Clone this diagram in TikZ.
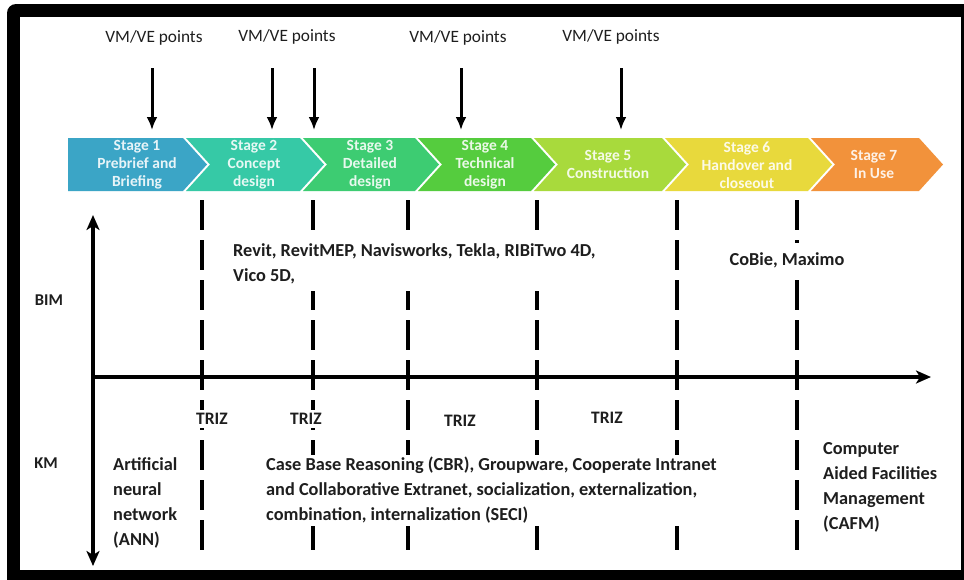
\documentclass[tikz,border=0pt]{standalone}
\usepackage{fontspec}
\setmainfont{Carlito}
\usetikzlibrary{arrows.meta}
\definecolor{sA}{HTML}{3BA5C6}
\definecolor{sB}{HTML}{36C9A6}
\definecolor{sC}{HTML}{3DCC72}
\definecolor{sD}{HTML}{55CC3E}
\definecolor{sE}{HTML}{A8DA3C}
\definecolor{sF}{HTML}{E8D93C}
\definecolor{sG}{HTML}{F2923B}
\definecolor{txt}{HTML}{1E1E1E}
\begin{document}
\begin{tikzpicture}[x=1pt,y=-1pt,
  stagetxt/.style={text=white,text opacity=0.88,font=\fontsize{15.5}{18}\selectfont\bfseries,align=center,inner sep=0pt},
  lbl/.style={font=\fontsize{18.3}{25}\selectfont\bfseries,align=left,fill=white,inner sep=2pt,text=txt,anchor=north west},
  trizlbl/.style={font=\fontsize{17.5}{20}\selectfont\bfseries,fill=white,inner sep=3pt,text=txt},
  vmlbl/.style={font=\fontsize{17.3}{20}\selectfont,text=txt,inner sep=0pt},
  vmarrow/.style={line width=3pt,-{Latex[length=13pt,width=11pt]}},
  divline/.style={line width=3.3pt,dash pattern=on 30pt off 10pt},
  axisline/.style={line width=3.3pt}]
\useasboundingbox (0,0) rectangle (964,579);
% frame
\begin{scope}
\clip (0,0) rectangle (964,579);
\fill[black,rounded corners=9pt] (7,4) rectangle (1000,610);
\end{scope}
\fill[white] (20,17) rectangle (961,570);
% chevrons
\fill[sA] (68,138) -- (183,138) -- (207,164.5) -- (183,191) -- (68,191) -- cycle;
\foreach \L/\R/\c in {186/300/sB, 303/415/sC, 418/531/sD, 534/662/sE, 665/808/sF, 811/919/sG}
  \fill[\c] (\L,138) -- (\R,138) -- ({\R+24},164.5) -- (\R,191) -- (\L,191) -- ({\L+24},164.5) -- cycle;
\node[stagetxt] (st1) at (137,165) {Stage 1\\Prebrief and\\Briefing};
\node[stagetxt] (st2) at (254,165) {Stage 2\\Concept\\design};
\node[stagetxt] (st3) at (370,165) {Stage 3\\Detailed\\design};
\node[stagetxt] (st4) at (485,165) {Stage 4\\Technical\\design};
\node[stagetxt] (st5) at (608,164) {Stage 5\\Construction};
\node[stagetxt] (st6) at (747,165) {Stage 6\\Handover and\\closeout};
\node[stagetxt] (st7) at (874,164) {Stage 7\\In Use};
% VM/VE points
\node[vmlbl] (vm1) at (154,38) {VM/VE points};
\node[vmlbl] (vm2) at (287,37) {VM/VE points};
\node[vmlbl] (vm3) at (458,38) {VM/VE points};
\node[vmlbl] (vm4) at (611,37) {VM/VE points};
\foreach \n/\x in {a/152, b/272, c/314, d/461, e/621}{
  \coordinate (\n s) at (\x,68);
  \coordinate (\n e) at (\x,130);
  \draw[vmarrow] (\n s) -- (\n e);
}
% dashed stage dividers
\foreach \n/\x in {1/202, 2/313, 3/408, 4/537, 5/677, 6/797}{
  \coordinate (d\n t) at (\x,200);
  \coordinate (d\n b) at (\x,552);
  \draw[divline] (d\n t) -- (d\n b);
}
% axes
\coordinate (ho) at (93,377);
\coordinate (he) at (931,377);
\coordinate (vt) at (93,215);
\coordinate (vb) at (93,566);
\draw[axisline,-{Stealth[length=15pt,width=13pt,inset=4pt]}] (ho) -- (he);
\draw[axisline,{Stealth[length=15pt,width=13pt,inset=4pt]}-{Stealth[length=15pt,width=13pt,inset=4pt]}] (vt) -- (vb);
% labels
\node[font=\fontsize{16.5}{18}\selectfont\bfseries,text=txt] (bim) at (49,300) {BIM};
\node[font=\fontsize{16.5}{18}\selectfont\bfseries,text=txt] (km) at (46,463) {KM};
\node[lbl,inner ysep=7pt] (revit) at (231,236) {Revit, RevitMEP, Navisworks, Tekla, RIBiTwo 4D,\\Vico 5D,};
\node[lbl,anchor=center,inner ysep=9pt] (cobie) at (787,260) {CoBie, Maximo};
\node[trizlbl] (t1) at (212,419) {TRIZ};
\node[trizlbl] (t2) at (306,419) {TRIZ};
\node[trizlbl] (t3) at (460,421) {TRIZ};
\node[trizlbl] (t4) at (607,418) {TRIZ};
\node[lbl] (ann) at (111,455) {Artificial\\neural\\network\\(ANN)};
\node[lbl] (cbr) at (264,455) {Case Base Reasoning (CBR), Groupware, Cooperate Intranet\\and Collaborative Extranet, socialization, externalization,\\combination, internalization (SECI)};
\node[lbl] (cafm) at (821,440) {Computer\\Aided Facilities\\Management\\(CAFM)};
\end{tikzpicture}
\end{document}
